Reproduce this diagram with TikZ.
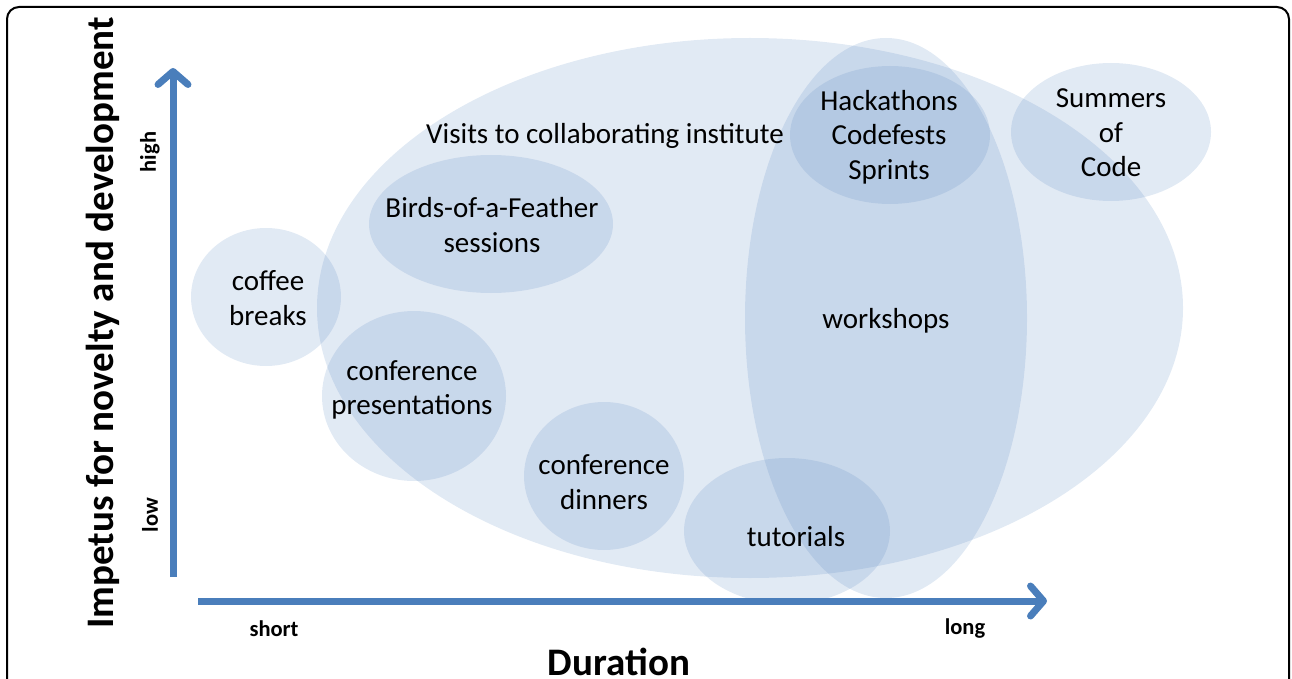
\documentclass[tikz,border=0pt]{standalone}
\usepackage{fontspec}
\setmainfont{Carlito}
\usetikzlibrary{positioning,arrows.meta,shapes.geometric}

\definecolor{axisblue}{HTML}{4A7EBB}
\definecolor{blobblue}{HTML}{4F81BD}

\begin{document}
\begin{tikzpicture}[
  x=1pt, y=-1pt,
  blob/.style={ellipse, inner sep=0pt, fill=blobblue, fill opacity=0.17},
  lbl/.style={align=center, font=\fontsize{29}{34.5}\selectfont},
  axis/.style={line width=7pt, axisblue, -{Straight Barb[length=13pt, width=30pt, round]}},
  tick/.style={font=\fontsize{22.5}{24}\selectfont\bfseries},
  title/.style={font=\fontsize{39}{42}\selectfont\bfseries}
]
\useasboundingbox (0, 0) rectangle (1292, 679);

% === Frame ===
\draw[line width=2pt, rounded corners=12pt] (7, 679) -- (7, 7) -- (1289, 7) -- (1289, 679);

% === Regions ===
% Visits to collaborating institute
\node[blob, minimum width=866pt, minimum height=540pt] (visits) at (750, 308) {};
% Workshops
\node[blob, minimum width=282pt, minimum height=560pt] (work) at (886, 318) {};

% Short formats
\node[blob, minimum width=150pt, minimum height=138pt] (coffee) at (266, 297) {};
\node[blob, minimum width=184pt, minimum height=170pt] (pres) at (414, 396) {};
\node[blob, minimum width=160pt, minimum height=148pt] (dinner) at (604, 476) {};
\node[blob, minimum width=244pt, minimum height=138pt] (bof) at (491, 224) {};
\node[blob, minimum width=206pt, minimum height=146pt] (tut) at (787, 531) {};

% Long formats
\node[blob, minimum width=200pt, minimum height=138pt] (hack) at (890, 135) {};
\node[blob, minimum width=200pt, minimum height=138pt] (soc) at (1111, 132) {};

% === Labels ===
\node[lbl] (visitslbl) at (605, 136) {Visits to collaborating institute};
\node[lbl] (worklbl) at (886, 321) {workshops};
\node[lbl] (coffeelbl) at (268, 298) {coffee\\breaks};
\node[lbl] (preslbl) at (412, 390) {conference\\presentations};
\node[lbl] (dinnerlbl) at (604, 482) {conference\\dinners};
\node[lbl] (boflbl) at (492, 225) {Birds-of-a-Feather\\sessions};
\node[lbl] (tutlbl) at (796, 537) {tutorials};
\node[lbl] (hacklbl) at (889, 137) {Hackathons\\Codefests\\Sprints};
\node[lbl] (soclbl) at (1111, 133) {Summers\\of\\Code};

% === Axes ===
\coordinate (ybot) at (173, 577);
\coordinate (ytop) at (173, 68);
\coordinate (xleft) at (198, 601);
\coordinate (xright) at (1047, 601);
\draw[axis] (ybot) -- (ytop);
\draw[axis] (xleft) -- (xright);

% Axis labels
\node[tick] (short) at (274, 629) {short};
\node[tick] (long) at (965, 629) {long};
\node[tick, rotate=90] (high) at (150, 152) {high};
\node[tick, rotate=90] (low) at (150, 515) {low};
\node[title, anchor=base] (dur) at (619, 675) {Duration};
\node[title, rotate=90] (imp) at (103, 323) {Impetus for novelty and development};

\end{tikzpicture}
\end{document}
